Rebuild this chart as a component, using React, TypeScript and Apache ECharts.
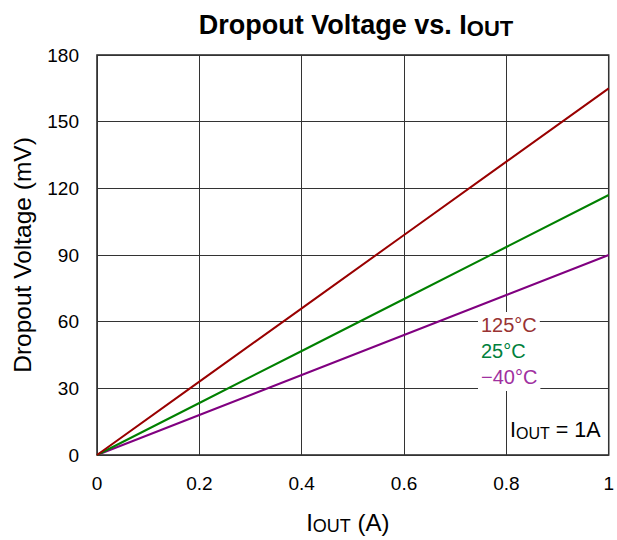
import React, { useEffect, useRef } from "react";
import * as echarts from "echarts";

const xValues = [0, 0.2, 0.4, 0.6, 0.8, 1];
const v125 = [0, 33, 66, 99, 132, 165];
const v25 = [0, 23.4, 46.8, 70.2, 93.6, 117];
const vm40 = [0, 18, 36, 54, 72, 90];
const seriesNames = ["125°C", "25°C", "−40°C"];
const seriesColors = ["#990000", "#008000", "#800080"];
const labelColors = ["#993333", "#00803c", "#a030a0"];

const FONT = "'Liberation Sans', Arial, sans-serif";

export default function App() {
  const ref = useRef<HTMLDivElement>(null);
  useEffect(() => {
    const chart = echarts.init(ref.current!, undefined, { renderer: "svg" });
    const all = [v125, v25, vm40];
    const option: any = {
      animation: false,
      backgroundColor: "#ffffff",
      textStyle: { fontFamily: FONT },
      title: {
        text: "{a|Dropout Voltage vs. I}{sub|OUT}",
        left: 351,
        textAlign: "center",
        top: 6,
        textStyle: {
          rich: {
            a: { fontSize: 27, fontWeight: "bold", fontFamily: FONT, color: "#000", lineHeight: 28, verticalAlign: "top" },
            sub: { fontSize: 22, fontWeight: "bold", fontFamily: FONT, color: "#000", lineHeight: 22, padding: [11, 0, 0, 0], verticalAlign: "bottom" },
          },
        },
      },
      grid: { left: 97, right: 6, top: 55, bottom: 84, show: true, borderColor: "#222", borderWidth: 1.5 },
      xAxis: {
        type: "value",
        min: 0,
        max: 1,
        interval: 0.2,
        name: "{a|I}{sub|OUT}{a| (A)}",
        nameLocation: "middle",
        nameGap: 55,
        nameTextStyle: {
          padding: [0, 10, 0, 0],
          rich: {
            a: { fontSize: 24, fontFamily: FONT, color: "#000", lineHeight: 25, verticalAlign: "top" },
            sub: { fontSize: 18, fontFamily: FONT, color: "#000", lineHeight: 19, padding: [10, 0, 0, 0], verticalAlign: "bottom" },
          },
        },
        axisLine: { show: false },
        axisTick: { show: false },
        axisLabel: { fontSize: 19, color: "#000", margin: 19, fontFamily: FONT, formatter: (v: number) => String(Math.round(v * 10) / 10) },
        splitLine: { show: true, lineStyle: { color: "#333", width: 1 } },
      },
      yAxis: {
        type: "value",
        min: 0,
        max: 180,
        interval: 30,
        name: "Dropout Voltage (mV)",
        nameLocation: "middle",
        nameGap: 62,
        nameTextStyle: { fontSize: 24.5, color: "#000", fontFamily: FONT },
        axisLine: { show: false },
        axisTick: { show: false },
        axisLabel: { fontSize: 19, color: "#000", margin: 18, fontFamily: FONT },
        splitLine: { show: true, lineStyle: { color: "#333", width: 1 } },
      },
      series: all.map((vals, i) => ({
        type: "line",
        name: seriesNames[i],
        data: xValues.map((x, j) => [x, vals[j]]),
        showSymbol: false,
        symbol: "none",
        lineStyle: { color: seriesColors[i], width: 2 },
        z: 3 - i,
      })),
      graphic: [
        ...seriesNames.map((n, i) => ({
          type: "text",
          left: 478,
          top: 312 + i * 26,
          z: 100,
          style: {
            text: n,
            fill: labelColors[i],
            font: `20px ${FONT}`,
            backgroundColor: "#ffffff",
            padding: [3, 3, 4, 3],
          },
        })),
        {
          type: "text",
          left: 510,
          top: 419,
          z: 100,
          style: {
            text: "{a|I}{sub|OUT}{a| = 1A}",
            rich: {
              a: { fontSize: 21.5, fontFamily: FONT, fill: "#000", lineHeight: 22, verticalAlign: "top" },
              sub: { fontSize: 16, fontFamily: FONT, fill: "#000", lineHeight: 17, padding: [6, 0, 0, 0], verticalAlign: "bottom" },
            },
          },
        },
      ],
    };
    chart.setOption(option);
    return () => chart.dispose();
  }, []);
  return <div ref={ref} style={{ position: "fixed", left: 0, top: 0, width: 617, height: 540 }} />;
}
